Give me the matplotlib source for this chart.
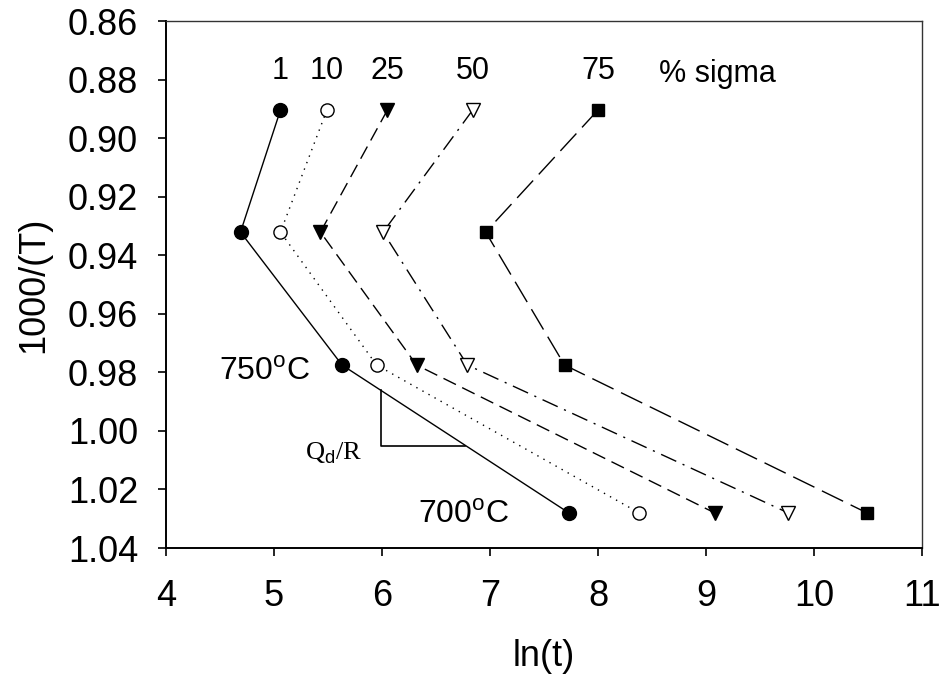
import numpy as np
import matplotlib.pyplot as plt

plt.rcParams['font.family'] = ['Liberation Sans', 'DejaVu Sans']
plt.rcParams['mathtext.fontset'] = 'custom'
plt.rcParams['mathtext.rm'] = 'Liberation Sans'

# 1000/T for 850, 800, 750, 700 C
inv_T = [0.8904, 0.9321, 0.9775, 1.028]

# ln(t) for each % sigma
sigma_labels = ["1", "10", "25", "50", "75"]
ln_t = {
    "1": [5.06, 4.69, 5.63, 7.73],
    "10": [5.49, 5.06, 5.95, 8.38],
    "25": [6.05, 5.43, 6.32, 9.08],
    "50": [6.84, 6.01, 6.79, 9.76],
    "75": [8.00, 6.96, 7.69, 10.49],
}

styles = {
    "1": dict(ls="-", marker="o", mfc="black", ms=10),
    "10": dict(ls=(0, (1, 4)), marker="o", mfc="white", ms=9.5),
    "25": dict(ls=(0, (10, 5)), marker="v", mfc="black", ms=10.5),
    "50": dict(ls=(0, (12, 5, 1.5, 5)), marker="v", mfc="white", ms=10.5),
    "75": dict(ls=(0, (17, 6)), marker="s", mfc="black", ms=9),
}

# slope triangle (Qd/R) helper lines
tri_x = [5.99, 5.99, 6.77]
tri_y = [0.9862, 1.0052, 1.0052]

fig = plt.figure(figsize=(9.42, 6.8), dpi=100)
ax = fig.add_axes([0.1762, 0.1941, 0.8026, 0.775])

for lab in sigma_labels:
    st = styles[lab]
    ax.plot(ln_t[lab], inv_T, color="black", linewidth=1.0,
            linestyle=st["ls"], marker=st["marker"],
            markerfacecolor=st["mfc"], markeredgecolor="black",
            markeredgewidth=1.0, markersize=st["ms"])
    ax.text(ln_t[lab][0], 0.8798, lab, ha="center", va="baseline",
            fontsize=22)

ax.text(9.11, 0.8808, "% sigma", ha="center", va="baseline", fontsize=22)

ax.plot(tri_x, tri_y, color="black", linewidth=1.2)
ax.text(5.815, 1.0099, r"Q$_{\rm d}$/R", ha="right", va="baseline",
        fontsize=19, family="Liberation Serif")
ax.text(5.33, 0.9826, r"750$^{\rm o}$C", ha="right", va="baseline", fontsize=23)
ax.text(6.33, 1.0314, r"700$^{\rm o}$C", ha="left", va="baseline", fontsize=23)

ax.set_xlim(4, 11)
ax.set_ylim(1.04, 0.86)
ax.set_xticks(np.arange(4, 12, 1))
ax.set_yticks(np.arange(0.86, 1.041, 0.02))
ax.set_yticklabels([f"{v:.2f}" for v in np.arange(0.86, 1.041, 0.02)])

ax.tick_params(direction="out", length=6, width=1.2, labelsize=26, pad=14)
ax.tick_params(axis="x", pad=16)
for side in ["left", "bottom"]:
    ax.spines[side].set_linewidth(1.4)
for side in ["top", "right"]:
    ax.spines[side].set_linewidth(1.0)
    ax.spines[side].set_color("#333333")

ax.set_xlabel("ln(t)", fontsize=26, labelpad=18)
ax.set_ylabel("1000/(T)", fontsize=26, labelpad=12)

fig.savefig("out.png", dpi=100)
